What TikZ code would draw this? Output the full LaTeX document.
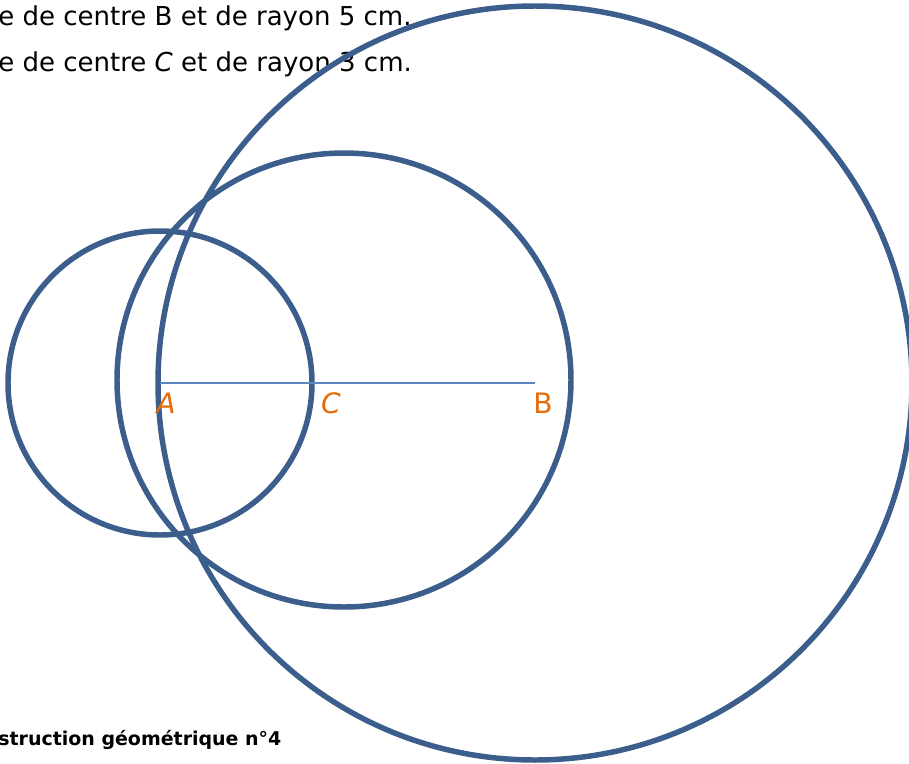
\documentclass[tikz,border=0pt]{standalone}
\usepackage{fontspec}
\setmainfont{DejaVu Sans}
\definecolor{circblue}{HTML}{3B5E8C}
\definecolor{segblue}{HTML}{5B87C0}
\definecolor{ptorange}{HTML}{E46C0A}
\tikzset{
  circ/.style={draw=circblue,line width=3.9pt},
  seg/.style={draw=segblue,line width=1.3pt},
  ptlabel/.style={text=ptorange,font=\fontsize{20}{24}\selectfont,inner sep=0pt},
  consigne/.style={anchor=base west,inner sep=0pt,font=\fontsize{18.5}{22}\selectfont}
}
\begin{document}
\begin{tikzpicture}[x=0.025cm,y=-0.025cm]
\useasboundingbox (0,0) rectangle (909,764);
\clip (0,0) rectangle (909,764);

% Points
\coordinate (A) at (160,383);
\coordinate (C) at (313,383);
\coordinate (B) at (535,383);
\coordinate (M) at (344,380);

% Instructions
\node[consigne] (l1) at (-2,25) {e de centre B et de rayon 5 cm.};
\node[consigne] (l2) at (-2,71) {e de centre \textit{C} et de rayon 3 cm.};
\node[consigne,font=\fontsize{13.5}{16}\selectfont\bfseries] (titre) at (-2,745) {struction géométrique n°4};

% Circles
\draw[circ] (A) circle[radius=152];
\draw[circ] (M) circle[radius=227];
\draw[circ] (B) circle[radius=377];

% Segment
\draw[seg] (A) -- (B);

% Labels
\node[ptlabel,font=\fontsize{20}{24}\selectfont\itshape] (labA) at (166,403) {A};
\node[ptlabel,font=\fontsize{20}{24}\selectfont\itshape] (labC) at (331,403) {C};
\node[ptlabel] (labB) at (543,403) {B};

\end{tikzpicture}
\end{document}
